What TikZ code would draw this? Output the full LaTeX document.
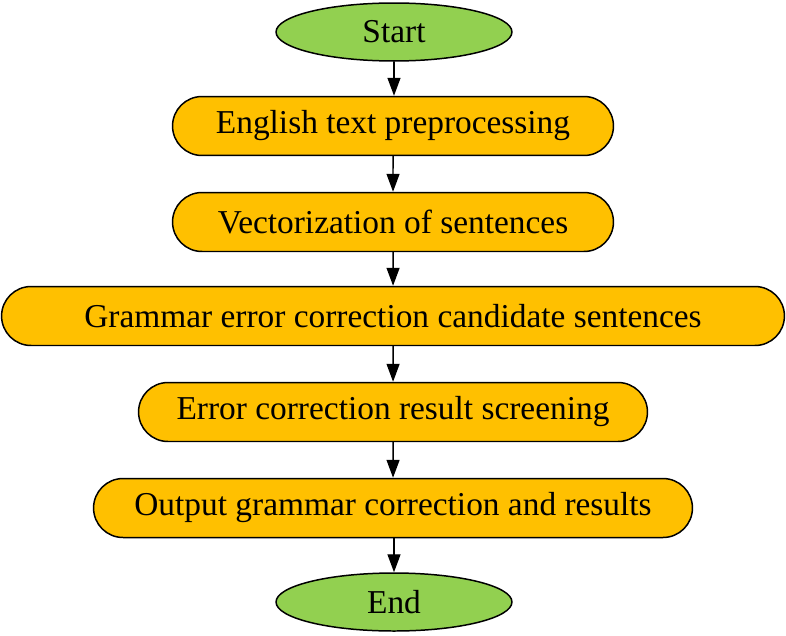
\documentclass[tikz,border=0pt]{standalone}
\usepackage{fontspec}
\setmainfont{Liberation Serif}
\usetikzlibrary{shapes.geometric,shapes.misc,arrows.meta}
\definecolor{startgreen}{RGB}{146,208,80}
\definecolor{steporange}{RGB}{255,192,0}
\tikzset{
  terminal/.style={ellipse,draw=black,line width=0.85pt,fill=startgreen,
    minimum width=4.72cm,minimum height=1.16cm,inner sep=0pt},
  stepbox/.style={rounded rectangle,draw=black,line width=0.85pt,fill=steporange,
    minimum height=1.18cm,inner sep=0pt},
  flow/.style={line width=0.8pt,-{Triangle[width=0.26cm,length=0.36cm]}}
}
\begin{document}
\begin{tikzpicture}[line cap=round,line join=round,x=0.02cm,y=-0.02cm]
\fontsize{19}{23}\selectfont
\useasboundingbox (0,0) rectangle (786,635);

\node[terminal] (start) at (394,32) {Start};
\node[stepbox,minimum width=8.82cm] (prep) at (393,126) {English text preprocessing};
\node[stepbox,minimum width=8.82cm] (vect) at (393,222) {Vectorization of sentences};
\node[stepbox,minimum width=15.66cm] (cand) at (393,316) {Grammar error correction candidate sentences};
\node[stepbox,minimum width=10.18cm] (screen) at (393,412) {Error correction result screening};
\node[stepbox,minimum width=11.98cm] (output) at (393,508) {Output grammar correction and results};
\node[terminal] (end) at (394,602) {End};

\draw[flow] (start) -- (start|-prep.north);
\draw[flow] (prep) -- (vect);
\draw[flow] (vect) -- (cand);
\draw[flow] (cand) -- (screen);
\draw[flow] (screen) -- (output);
\draw[flow] (output.south-|end) -- (end);
\end{tikzpicture}
\end{document}
